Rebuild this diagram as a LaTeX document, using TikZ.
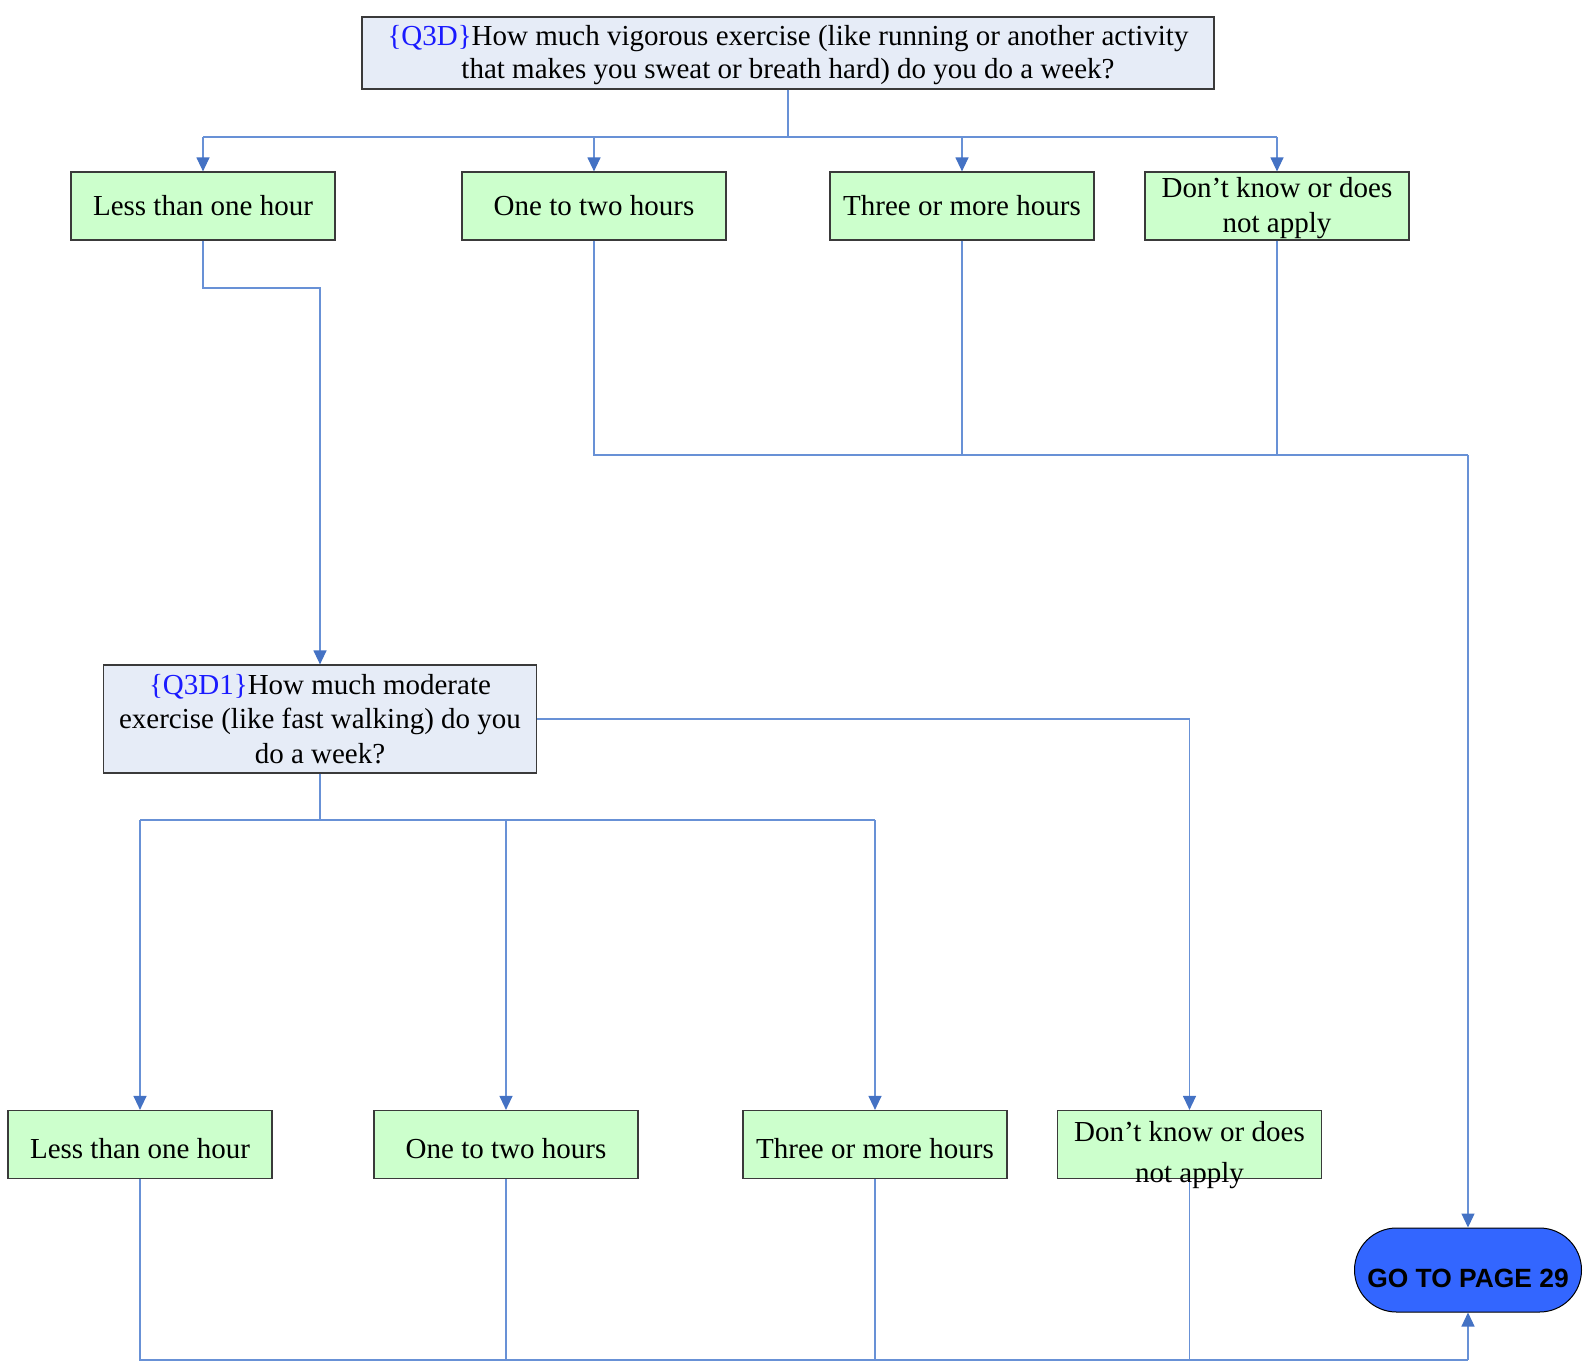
\documentclass[tikz,border=0pt]{standalone}
\usepackage{fontspec}
\setmainfont{Liberation Serif}
\newfontfamily\gofont{Liberation Sans}
\usetikzlibrary{arrows.meta}
\definecolor{qfill}{HTML}{E6ECF7}
\definecolor{afill}{HTML}{CCFFCC}
\definecolor{lnc}{HTML}{6891D6}
\definecolor{tipc}{HTML}{4472C4}
\definecolor{qid}{HTML}{1A1AFF}
\definecolor{gofill}{HTML}{3366FF}
\definecolor{boxc}{HTML}{3A3A3A}
\newcommand\dnshift[2]{\raisebox{#1}[\height][\depth]{#2}}
\newcommand\twolines[2]{\begin{tabular}{@{}c@{}}#1\\#2\end{tabular}}
\begin{document}
\begin{tikzpicture}[x=1pt,y=-1pt,
  every node/.style={font=\fontsize{29}{34.5}\selectfont, inner sep=0pt},
  qbox/.style={draw=boxc, line width=1.2pt, fill=qfill, align=center},
  abox/.style={draw=boxc, line width=1.2pt, fill=afill, minimum width=264pt, minimum height=68pt, align=center},
  conn/.style={draw=lnc, line width=1.25pt},
  arr/.style={conn, -{Triangle[length=14pt,width=13pt,fill=tipc,color=tipc]}}
]
\useasboundingbox (0,0) rectangle (1591,1363);

% question boxes
\node[qbox, minimum width=852pt, minimum height=72pt, font=\fontsize{29}{33.5}\selectfont] (q1) at (788,53)
  {\raisebox{-8.5pt}[30pt][30pt]{\begin{tabular}{@{}c@{}}\textcolor{qid}{\{Q3D\}}How much vigorous exercise (like running or another activity\\that makes you sweat or breath hard) do you do a week?\end{tabular}}};
\node[qbox, minimum width=433pt, minimum height=108pt] (q2) at (320,719)
  {\textcolor{qid}{\{Q3D1\}}How much moderate\\exercise (like fast walking) do you\\do a week?};

% first row of answers
\node[abox] (a1) at (203,206) {Less than one hour};
\node[abox] (a2) at (594,206) {One to two hours};
\node[abox] (a3) at (962,206) {Three or more hours};
\node[abox, font=\fontsize{29}{35.5}\selectfont] (a4) at (1277,206) {\raisebox{-8pt}[30pt][30pt]{\twolines{Don’t know or does}{not apply}}};

% second row of answers
\node[abox] (b1) at (140,1144.5) {\dnshift{-4pt}{Less than one hour}};
\node[abox] (b2) at (506,1144.5) {\dnshift{-4pt}{One to two hours}};
\node[abox] (b3) at (875,1144.5) {\dnshift{-4pt}{Three or more hours}};
\node[abox] (b4) at (1189.5,1144.5) {};

% terminal
\node[draw=black, line width=1pt, fill=gofill, rounded corners=42pt, minimum width=227pt, minimum height=84pt] (go) at (1468,1270)
  {\dnshift{-8pt}{\gofont\bfseries\fontsize{26.4}{30}\selectfont GO TO PAGE 29}};

% connectors from Q3D
\coordinate (j1) at (788,137);
\draw[conn] (q1.south) -- (j1);
\draw[conn] (a1.north |- j1) -- (a4.north |- j1);
\foreach \n in {a1,a2,a3,a4} \draw[arr] (\n.north |- j1) -- (\n.north);

\coordinate (j2) at (320,288);
\draw[arr] (a1.south) |- (j2) -- (q2.north);

\coordinate (j3) at (1468,455);
\draw[conn] (a2.south) |- (j3);
\draw[conn] (a3.south) -- (a3.south |- j3);
\draw[conn] (a4.south) -- (a4.south |- j3);
\draw[arr] (j3) -- (go.north);

% connectors from Q3D1
\draw[arr] (q2.east) -| (b4.north);
\coordinate (j5) at (320,820);
\draw[conn] (q2.south) -- (j5);
\draw[conn] (b1.north |- j5) -- (b3.north |- j5);
\foreach \n in {b1,b2,b3} \draw[arr] (\n.north |- j5) -- (\n.north);

\coordinate (j6) at (1468,1360);
\draw[conn] (b1.south) |- (j6);
\foreach \n in {b2,b3,b4} \draw[conn] (\n.south) -- (\n.south |- j6);
\draw[arr] (j6) -- (go.south);

% text of the last answer box (runs past its lower edge)
\node[font=\fontsize{29}{40.6}\selectfont, align=center] (b4t) at (1189.5,1155) {Don’t know or does\\not apply};
\end{tikzpicture}
\end{document}
